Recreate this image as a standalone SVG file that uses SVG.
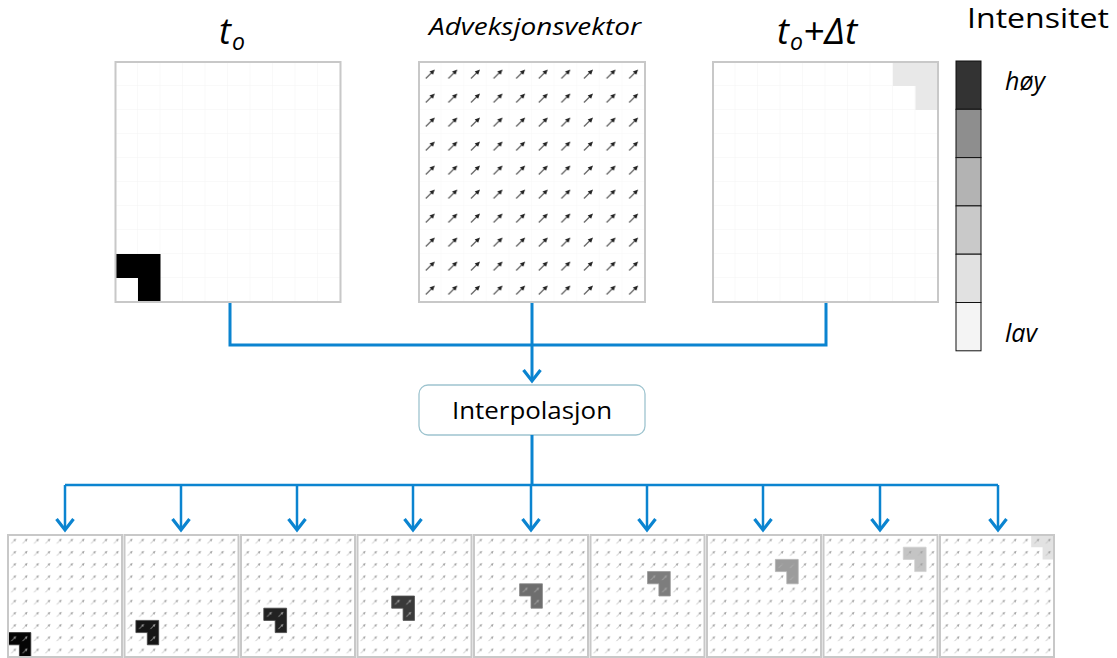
<svg xmlns="http://www.w3.org/2000/svg" width="1117" height="658" viewBox="0 0 1117 658">
<style>
.lbl{font-family:"Open Sans","Liberation Sans",sans-serif;fill:#000}
.it{font-style:italic}
.frame{fill:none;stroke:#c8c8c8;stroke-width:2}
.conn{fill:none;stroke:#0b84d0;stroke-width:3;stroke-linejoin:miter}
.thin{stroke-width:2.5}
.leg{stroke:#111;stroke-width:1}
</style>
<defs>
<pattern id="gridTop" patternUnits="userSpaceOnUse" width="22.5" height="24">
<path d="M22.5,0 V24 M0,24 H22.5" fill="none" stroke="#f3f3f3" stroke-width="1"/>
</pattern>
<pattern id="gridTop2" patternUnits="userSpaceOnUse" width="22.6" height="24">
<path d="M22.6,0 V24 M0,24 H22.6" fill="none" stroke="#f7f7f7" stroke-width="1"/>
</pattern>
<pattern id="arrTop" patternUnits="userSpaceOnUse" width="22.6" height="24">
<g transform="translate(11.3,12)">
<path d="M-4.5,4.5 L1.5,-1.5" stroke="#666" stroke-width="1.3" fill="none"/>
<path d="M4.5,-4.5 L-0.8,-2.6 L2.6,0.8 Z" fill="#222"/>
</g>
</pattern>
<pattern id="arrBot" patternUnits="userSpaceOnUse" width="11.4" height="12.2">
<g transform="translate(5.7,6.1) scale(0.55)">
<path d="M-4.5,4.5 L1.5,-1.5" stroke="#b4b4b4" stroke-width="1.5" fill="none"/>
<path d="M4.5,-4.5 L-0.8,-2.6 L2.6,0.8 Z" fill="#a0a0a0"/>
</g>
</pattern>
<marker id="chev" viewBox="-16 -12 20 24" markerWidth="20" markerHeight="24" refX="0" refY="0" orient="auto" markerUnits="userSpaceOnUse">
<path d="M-11,-8.5 L0,0 L-11,8.5" fill="none" stroke="#0b84d0" stroke-width="3.2"/>
</marker>
</defs>
<rect width="1117" height="658" fill="#fff"/>

<!-- Titles -->
<g id="title-t0">
<text class="lbl it" x="219" y="44" font-size="36">t</text>
<text class="lbl it" x="232" y="50" font-size="23">o</text>
</g>
<g id="title-adv">
<text class="lbl it" x="429" y="35" font-size="23" textLength="212" lengthAdjust="spacingAndGlyphs">Adveksjonsvektor</text>
</g>
<g id="title-t1">
<text class="lbl it" x="777" y="44" font-size="36">t</text>
<text class="lbl it" x="790" y="50" font-size="23">o</text>
<text class="lbl it" x="803" y="44" font-size="37">+Δt</text>
</g>

<!-- Top panel t0 -->
<g id="panel-t0" transform="translate(115.5,62)">
<rect width="225" height="240" fill="#fff"/>
<rect width="225" height="240" fill="url(#gridTop)"/>
<path d="M0,192 H45 V240 H22.5 V216 H0 Z" fill="#000"/>
<rect width="225" height="240" class="frame"/>
</g>

<!-- Top panel advection -->
<g id="panel-adv" transform="translate(419,62)">
<rect width="226" height="240" fill="#fff"/>
<rect width="226" height="240" fill="url(#gridTop2)"/>
<rect width="226" height="240" fill="url(#arrTop)"/>
<rect width="226" height="240" class="frame"/>
</g>

<!-- Top panel t0+dt -->
<g id="panel-t1" transform="translate(713,62)">
<rect width="225" height="240" fill="#fff"/>
<rect width="225" height="240" fill="url(#gridTop)"/>
<path d="M180,0 H225 V48 H202.5 V24 H180 Z" fill="#e8e8e8"/>
<rect width="225" height="240" class="frame"/>
</g>

<!-- Legend -->
<g id="legend">
<text class="lbl" x="967" y="28" font-size="27" textLength="142" lengthAdjust="spacingAndGlyphs">Intensitet</text>
<rect class="leg" x="956" y="61" width="25" height="48.3" fill="#333"/>
<rect class="leg" x="956" y="109.3" width="25" height="48.3" fill="#8e8e8e"/>
<rect class="leg" x="956" y="157.6" width="25" height="48.3" fill="#b3b3b3"/>
<rect class="leg" x="956" y="205.9" width="25" height="48.3" fill="#c9c9c9"/>
<rect class="leg" x="956" y="254.2" width="25" height="48.3" fill="#e1e1e1"/>
<rect class="leg" x="956" y="302.5" width="25" height="48.3" fill="#f4f4f4"/>
<text class="lbl it" x="1005" y="90" font-size="25">høy</text>
<text class="lbl it" x="1005" y="342" font-size="25">lav</text>
</g>

<!-- Interpolation node -->
<g id="interp">
<rect x="419" y="385" width="226" height="50" rx="9" fill="#fff" stroke="#9ec4cf" stroke-width="1.3"/>
<text class="lbl" x="452" y="419" font-size="23" textLength="160" lengthAdjust="spacingAndGlyphs">Interpolasjon</text>
</g>

<!-- Bottom panels -->
<g id="out-1" transform="translate(8,535)">
<rect width="114" height="122" fill="#fff"/>
<path d="M0,97.6 H22.8 V122 H11.4 V109.8 H0 Z" fill="#050505" stroke="#333" stroke-width="0.8"/>
<rect width="114" height="122" fill="url(#arrBot)"/><rect width="114" height="122" class="frame"/>
</g>
<g id="out-2" transform="translate(124.5,535)">
<rect width="114" height="122" fill="#fff"/>
<path d="M11.4,85.4 H34.2 V109.8 H22.8 V97.6 H11.4 Z" fill="#151515" stroke="#444" stroke-width="0.8"/>
<rect width="114" height="122" fill="url(#arrBot)"/><rect width="114" height="122" class="frame"/>
</g>
<g id="out-3" transform="translate(241,535)">
<rect width="114" height="122" fill="#fff"/>
<path d="M22.8,73.2 H45.6 V97.6 H34.2 V85.4 H22.8 Z" fill="#222" stroke="#444" stroke-width="0.8"/>
<rect width="114" height="122" fill="url(#arrBot)"/><rect width="114" height="122" class="frame"/>
</g>
<g id="out-4" transform="translate(357.5,535)">
<rect width="114" height="122" fill="#fff"/>
<path d="M34.2,61 H57 V85.4 H45.6 V73.2 H34.2 Z" fill="#3a3a3a" stroke="#555" stroke-width="0.8"/>
<rect width="114" height="122" fill="url(#arrBot)"/><rect width="114" height="122" class="frame"/>
</g>
<g id="out-5" transform="translate(474,535)">
<rect width="114" height="122" fill="#fff"/>
<path d="M45.6,48.8 H68.4 V73.2 H57 V61 H45.6 Z" fill="#6e6e6e" stroke="#888" stroke-width="0.8"/>
<rect width="114" height="122" fill="url(#arrBot)"/><rect width="114" height="122" class="frame"/>
</g>
<g id="out-6" transform="translate(590.5,535)">
<rect width="114" height="122" fill="#fff"/>
<path d="M57,36.6 H79.8 V61 H68.4 V48.8 H57 Z" fill="#7d7d7d" stroke="#999" stroke-width="0.8"/>
<rect width="114" height="122" fill="url(#arrBot)"/><rect width="114" height="122" class="frame"/>
</g>
<g id="out-7" transform="translate(707,535)">
<rect width="114" height="122" fill="#fff"/>
<path d="M68.4,24.4 H91.2 V48.8 H79.8 V36.6 H68.4 Z" fill="#9c9c9c" stroke="#b0b0b0" stroke-width="0.8"/>
<rect width="114" height="122" fill="url(#arrBot)"/><rect width="114" height="122" class="frame"/>
</g>
<g id="out-8" transform="translate(823.5,535)">
<rect width="114" height="122" fill="#fff"/>
<path d="M79.8,12.2 H102.6 V36.6 H91.2 V24.4 H79.8 Z" fill="#c4c4c4" stroke="#d0d0d0" stroke-width="0.8"/>
<rect width="114" height="122" fill="url(#arrBot)"/><rect width="114" height="122" class="frame"/>
</g>
<g id="out-9" transform="translate(940,535)">
<rect width="114" height="122" fill="#fff"/>
<path d="M91.2,0 H114 V24.4 H102.6 V12.2 H91.2 Z" fill="#e2e2e2"/>
<rect width="114" height="122" fill="url(#arrBot)"/><rect width="114" height="122" class="frame"/>
</g>

<!-- Connectors -->
<g id="connectors">
<path class="conn" d="M230,303 V345 H826 V303"/>
<path class="conn" d="M532,303 V381" marker-end="url(#chev)"/>
<path class="conn" d="M532,435 V485"/>
<path class="conn thin" d="M65,485 H998"/>
<path class="conn thin" d="M65,485 V530" marker-end="url(#chev)"/>
<path class="conn thin" d="M181,485 V530" marker-end="url(#chev)"/>
<path class="conn thin" d="M297,485 V530" marker-end="url(#chev)"/>
<path class="conn thin" d="M413,485 V530" marker-end="url(#chev)"/>
<path class="conn thin" d="M531,485 V530" marker-end="url(#chev)"/>
<path class="conn thin" d="M647,485 V530" marker-end="url(#chev)"/>
<path class="conn thin" d="M763,485 V530" marker-end="url(#chev)"/>
<path class="conn thin" d="M880,485 V530" marker-end="url(#chev)"/>
<path class="conn thin" d="M998,485 V530" marker-end="url(#chev)"/>
</g>
</svg>
